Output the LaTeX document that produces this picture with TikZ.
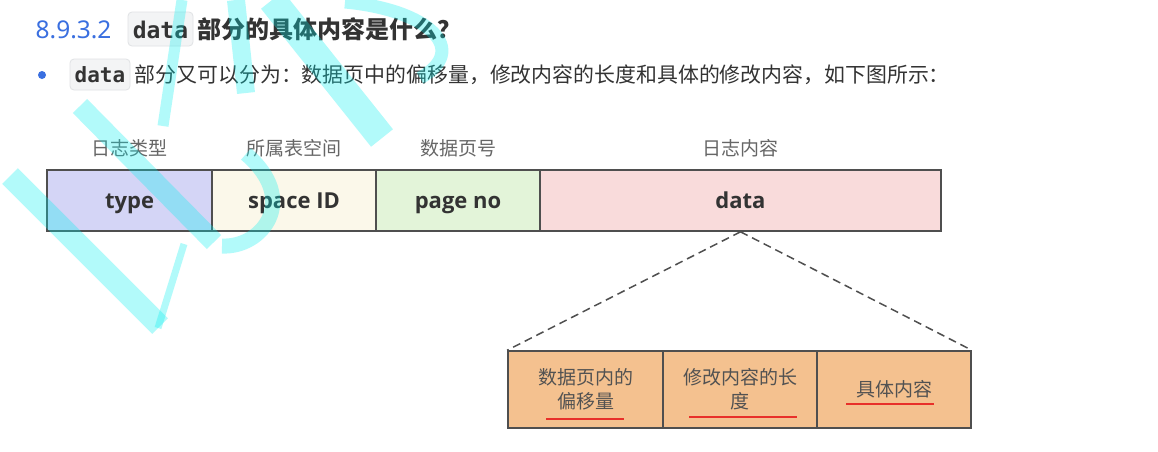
\documentclass[tikz,border=0pt]{standalone}
\usepackage{fontspec}
\setmainfont{Noto Sans}
\newfontfamily\cjk{Noto Sans CJK SC}
\newfontfamily\lat{Open Sans}
\newfontfamily\mono{DejaVu Sans Mono}
\definecolor{titleblue}{HTML}{3A6FE0}
\definecolor{txt}{HTML}{333333}
\definecolor{lbl}{HTML}{666666}
\definecolor{edge}{HTML}{4F4F4F}
\definecolor{ftype}{HTML}{D4D5F6}
\definecolor{fspace}{HTML}{FBF8EA}
\definecolor{fpage}{HTML}{E3F4D9}
\definecolor{fdata}{HTML}{F9DBDB}
\definecolor{forange}{HTML}{F4C18F}
\definecolor{codebg}{HTML}{F3F4F5}
\definecolor{codeedge}{HTML}{E0E2E5}
\definecolor{uline}{HTML}{E8302A}
\definecolor{wmc}{HTML}{00F0F0}
\tikzset{
  topbox/.style={draw=edge, line width=1.6pt, minimum height=61pt, inner sep=0pt,
    text height=16pt, text depth=0pt, font=\lat\bfseries\fontsize{22}{24}\selectfont, text=txt},
  lowbox/.style={draw=edge, line width=1.6pt, fill=forange, minimum height=77pt, inner sep=0pt,
    align=center, font=\cjk\fontsize{19}{24}\selectfont, text=black!68},
  toplabel/.style={anchor=base, font=\cjk\fontsize{19}{22}\selectfont, text=lbl, inner sep=0pt},
  codebox/.style={fill=codebg, draw=codeedge, line width=0.8pt, rounded corners=4pt, inner sep=0pt},
  ul/.style={draw=uline, line width=1.6pt},
  wm/.style={draw=wmc, draw opacity=0.3, line cap=butt},
}
\begin{document}
\begin{tikzpicture}[x=1pt,y=-1pt]
\useasboundingbox (0,0) rectangle (1158,451);
\fill[white] (0,0) rectangle (1158,451);
% heading
\node[anchor=base west, inner sep=0pt, text=titleblue, font=\fontsize{24.5}{26}\selectfont] (num) at (35.5,38.5) {8.9.3.2};
\node[codebox, minimum width=65pt, minimum height=34pt] (code1) at (160.5,29) {};
\node[anchor=base, inner sep=0pt, font=\mono\bfseries\fontsize{23}{26}\selectfont, text=txt] (code1t) at (160.5,38.5) {data};
\node[anchor=base west, inner sep=0pt, font=\cjk\bfseries\fontsize{24}{26}\selectfont, text=txt] (title) at (197.5,38.5) {部分的具体内容是什么？};
% bullet line
\fill[titleblue] (42,75) circle (4pt);
\node[codebox, minimum width=60pt, minimum height=31pt] (code2) at (100,74.5) {};
\node[anchor=base, inner sep=0pt, font=\mono\bfseries\fontsize{21}{24}\selectfont, text=txt] (code2t) at (100,82) {data};
\node[anchor=base west, inner sep=0pt, font=\cjk\fontsize{20.9}{24}\selectfont, text=txt] (desc) at (134.5,82)
  {部分又可以分为：数据页中的偏移量，修改内容的长度和具体的修改内容，如下图所示：};
% top labels
\node[toplabel] (l1) at (129.5,155.5) {日志类型};
\node[toplabel] (l2) at (294,155.5) {所属表空间};
\node[toplabel] (l3) at (458,155.5) {数据页号};
\node[toplabel] (l4) at (740.5,155.5) {日志内容};
% top boxes
\node[topbox, fill=ftype, minimum width=165pt] (type) at (129.5,200.5) {type};
\node[topbox, fill=fspace, minimum width=164pt] (space) at (294,200.5) {space ID};
\node[topbox, fill=fpage, minimum width=164pt] (page) at (458,200.5) {page no};
\node[topbox, fill=fdata, minimum width=401pt] (data) at (740.5,200.5) {data};
% lower boxes
\node[lowbox, minimum width=155pt] (b1) at (585.5,389.5) {数据页内的\\偏移量};
\node[lowbox, minimum width=154pt] (b2) at (740,389.5) {修改内容的长\\度};
\node[lowbox, minimum width=154pt] (b3) at (894,389.5) {具体内容};
% dashed connectors
\draw[edge, line width=1.5pt, dash pattern=on 8pt off 5pt] (data.south) -- (b1.north west);
\draw[edge, line width=1.5pt, dash pattern=on 8pt off 5pt] (data.south) -- (b3.north east);
% red underlines
\draw[ul] (546,419) -- (624,419);
\draw[ul] (689,417) -- (797,417);
\draw[ul] (846,404) -- (934,404);
% watermark
\draw[wm, line width=22pt] (10,176) -- (160,326);
\draw[wm, line width=7pt] (158,328) -- (184,244);
\draw[wm, line width=20pt] (80,106) -- (214,242);
\draw[wm, line width=15pt] (222,246) .. controls (262,248) and (300,200) .. (246,154);
\draw[wm, line width=18pt] (236,0) -- (246,93);
\draw[wm, line width=28pt] (272,0) -- (382,138);
\draw[wm, line width=11pt] (182,0) -- (163,126);
\draw[wm, line width=13pt] (345,2) .. controls (430,10) and (470,50) .. (420,78);
\end{tikzpicture}
\end{document}
